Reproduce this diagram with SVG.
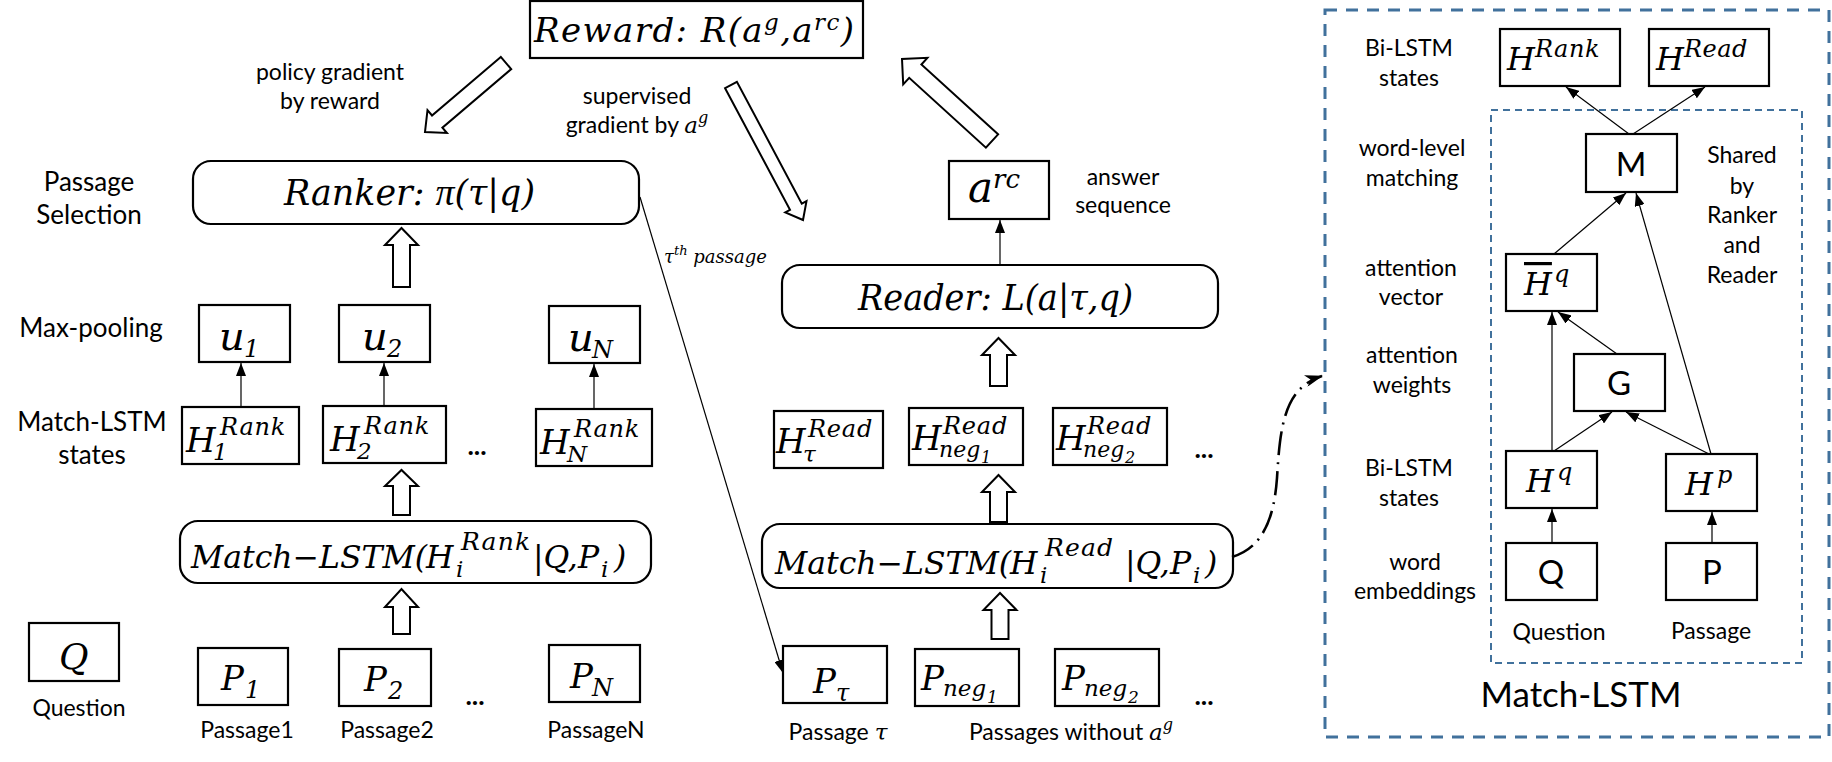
<svg xmlns="http://www.w3.org/2000/svg" width="1832" height="762" viewBox="0 0 1832 762">
<defs>
<style>
.box{fill:#fff;stroke:#000;stroke-width:2.2}
.lbl{font-family:Lato,"Liberation Sans",sans-serif;font-size:23px;fill:#000;text-anchor:middle}
.lblL{font-size:26px}
.dots{font-family:Lato,"Liberation Sans",sans-serif;font-size:27px;font-weight:bold;fill:#000;text-anchor:middle}
.title{font-family:Lato,"Liberation Sans",sans-serif;font-size:35px;fill:#000;text-anchor:middle}
.m{font-family:"DejaVu Serif","Liberation Serif",serif;font-style:italic;fill:#000}
.pi{font-family:"Liberation Serif",serif;font-style:italic}
.s{font-family:Lato,"Liberation Sans",sans-serif;font-size:33px;fill:#000;text-anchor:middle}
.thin{stroke:#000;stroke-width:1.2;fill:none}
.blk{fill:#fff;stroke:#000;stroke-width:2;stroke-linejoin:miter}
.dasho{fill:none;stroke:#41719C;stroke-width:3;stroke-dasharray:12 9}
.dashi{fill:none;stroke:#41719C;stroke-width:2;stroke-dasharray:7 5}
.dd{fill:none;stroke:#000;stroke-width:2.6;stroke-dasharray:24 7 2 7}
</style>
<marker id="ah" markerUnits="userSpaceOnUse" markerWidth="13" markerHeight="10" refX="13" refY="5" orient="auto" viewBox="0 0 13 10"><path d="M0,0 L13,5 L0,10 z" fill="#000"/></marker>
<marker id="st" markerUnits="userSpaceOnUse" markerWidth="18" markerHeight="12" refX="17" refY="6" orient="auto" viewBox="0 0 18 12"><path d="M0,0 L18,6 L0,12 L5,6 z" fill="#000"/></marker>
</defs>
<rect width="1832" height="762" fill="#fff"/>

<g id="labels-left">
<text class="lbl lblL" x="89" y="191">Passage</text>
<text class="lbl lblL" x="89" y="224">Selection</text>
<text class="lbl lblL" x="91" y="337">Max-pooling</text>
<text class="lbl lblL" x="92" y="431">Match-LSTM</text>
<text class="lbl lblL" x="92" y="464">states</text>
<text class="lbl" x="330" y="80">policy gradient</text>
<text class="lbl" x="330" y="109">by reward</text>
<text class="lbl" x="637" y="104">supervised</text>
<text class="lbl" x="637" y="133">gradient by <tspan class="m" font-size="23">a</tspan><tspan class="m" font-size="16" dy="-10">g</tspan></text>
<text class="lbl" x="1123" y="185">answer</text>
<text class="lbl" x="1123" y="213">sequence</text>
<text class="m" font-size="18" x="664" y="263">τ<tspan font-size="13" dy="-8">th</tspan><tspan dy="8"> passage</tspan></text>
</g>

<g id="reward">
<rect class="box" x="530" y="1" width="333" height="57"/>
<text class="m" font-size="34" x="534" y="42" textLength="320">Reward: R(a<tspan font-size="23" dy="-12">g</tspan><tspan dy="12">,a</tspan><tspan font-size="23" dy="-12">rc</tspan><tspan dy="12">)</tspan></text>
</g>

<g id="ranker">
<rect class="box" x="193" y="161" width="446" height="63" rx="18"/>
<text class="m" font-size="35" x="284" y="205" textLength="251" lengthAdjust="spacingAndGlyphs">Ranker: <tspan class="pi" font-size="38">π</tspan>(τ|q)</text>
</g>

<g id="u1"><rect class="box" x="199" y="305" width="91" height="57"/><text class="m" font-size="40" y="350"><tspan x="219">u</tspan><tspan x="244" y="357" font-size="24">1</tspan></text></g>
<g id="u2"><rect class="box" x="339" y="305" width="91" height="57"/><text class="m" font-size="40" y="350"><tspan x="362">u</tspan><tspan x="387" y="357" font-size="24">2</tspan></text></g>
<g id="uN"><rect class="box" x="549" y="306" width="91" height="57"/><text class="m" font-size="40" y="351"><tspan x="568">u</tspan><tspan x="592" y="358" font-size="24">N</tspan></text></g>

<g id="hrank1"><rect class="box" x="182" y="407" width="117" height="57"/><text class="m" font-size="34" y="452"><tspan x="186">H</tspan><tspan x="213" y="460" font-size="23">1</tspan><tspan x="220" y="435" font-size="24" letter-spacing="0.8">Rank</tspan></text></g>
<g id="hrank2"><rect class="box" x="323" y="406" width="123" height="57"/><text class="m" font-size="34" y="451"><tspan x="330">H</tspan><tspan x="357" y="459" font-size="23">2</tspan><tspan x="364" y="434" font-size="24" letter-spacing="0.8">Rank</tspan></text></g>
<text class="dots" x="477" y="455">...</text>
<g id="hrankN"><rect class="box" x="536" y="409" width="116" height="57"/><text class="m" font-size="34" y="454"><tspan x="540">H</tspan><tspan x="567" y="462" font-size="23">N</tspan><tspan x="574" y="437" font-size="24" letter-spacing="0.8">Rank</tspan></text></g>

<g id="matchrank">
<rect class="box" x="180" y="521" width="471" height="62" rx="18"/>
<text class="m" font-size="31.5" y="568"><tspan x="191">Match−LSTM(</tspan><tspan x="426">H</tspan><tspan x="456" y="577" font-size="23">i</tspan><tspan x="461" y="550" font-size="25" letter-spacing="1.2">Rank</tspan><tspan x="533" y="568">|Q,P</tspan><tspan x="601" y="577" font-size="23">i</tspan><tspan x="614" y="568">)</tspan></text>
</g>

<g id="q"><rect class="box" x="29" y="623" width="90" height="58"/><text class="m" font-size="36" x="59" y="669">Q</text></g>
<text class="lbl" x="79" y="716">Question</text>
<g id="p1"><rect class="box" x="198" y="648" width="90" height="57"/><text class="m" font-size="34" y="690"><tspan x="221">P</tspan><tspan x="245" y="698" font-size="24">1</tspan></text></g>
<g id="p2"><rect class="box" x="339" y="649" width="92" height="57"/><text class="m" font-size="34" y="691"><tspan x="364">P</tspan><tspan x="388" y="699" font-size="24">2</tspan></text></g>
<text class="dots" x="475" y="705">...</text>
<g id="pN"><rect class="box" x="549" y="645" width="91" height="57"/><text class="m" font-size="34" y="688"><tspan x="570">P</tspan><tspan x="592" y="696" font-size="24">N</tspan></text></g>
<text class="lbl" x="247" y="738">Passage1</text>
<text class="lbl" x="387" y="738">Passage2</text>
<text class="lbl" x="596" y="738">PassageN</text>

<g id="arc"><rect class="box" x="949" y="161" width="100" height="58"/><text class="m" font-size="42" y="202"><tspan x="968">a</tspan><tspan x="993" y="188" font-size="26">rc</tspan></text></g>

<g id="reader">
<rect class="box" x="782" y="265" width="436" height="63" rx="18"/>
<text class="m" font-size="35" x="858" y="310" textLength="275" lengthAdjust="spacingAndGlyphs">Reader: L(a|τ,q)</text>
</g>

<g id="hread-tau"><rect class="box" x="774" y="411" width="109" height="57"/><text class="m" font-size="34" y="453"><tspan x="776">H</tspan><tspan x="803" y="462" font-size="23">τ</tspan><tspan x="808" y="437" font-size="24" letter-spacing="0.8">Read</tspan></text></g>
<g id="hread-neg1"><rect class="box" x="909" y="408" width="114" height="57"/><text class="m" font-size="34" y="450"><tspan x="912">H</tspan><tspan x="939" y="457" font-size="22">neg</tspan><tspan x="981" y="463" font-size="16">1</tspan><tspan x="943" y="434" font-size="24" letter-spacing="0.8">Read</tspan></text></g>
<g id="hread-neg2"><rect class="box" x="1053" y="408" width="114" height="57"/><text class="m" font-size="34" y="450"><tspan x="1056">H</tspan><tspan x="1083" y="457" font-size="22">neg</tspan><tspan x="1125" y="463" font-size="16">2</tspan><tspan x="1087" y="434" font-size="24" letter-spacing="0.8">Read</tspan></text></g>
<text class="dots" x="1204" y="458">...</text>

<g id="matchread">
<rect class="box" x="762" y="524" width="471" height="64" rx="18"/>
<text class="m" font-size="31.5" y="574"><tspan x="775">Match−LSTM(</tspan><tspan x="1010">H</tspan><tspan x="1040" y="583" font-size="23">i</tspan><tspan x="1045" y="556" font-size="25" letter-spacing="1.2">Read</tspan><tspan x="1125" y="574">|Q,P</tspan><tspan x="1193" y="583" font-size="23">i</tspan><tspan x="1205" y="574">)</tspan></text>
</g>

<g id="ptau"><rect class="box" x="783" y="646" width="104" height="57"/><text class="m" font-size="34" y="693"><tspan x="813">P</tspan><tspan x="836" y="701" font-size="24">τ</tspan></text></g>
<g id="pneg1"><rect class="box" x="915" y="649" width="104" height="57"/><text class="m" font-size="34" y="690"><tspan x="921">P</tspan><tspan x="943" y="696" font-size="23">neg</tspan><tspan x="987" y="703" font-size="17">1</tspan></text></g>
<g id="pneg2"><rect class="box" x="1055" y="649" width="104" height="57"/><text class="m" font-size="34" y="690"><tspan x="1062">P</tspan><tspan x="1084" y="696" font-size="23">neg</tspan><tspan x="1128" y="703" font-size="17">2</tspan></text></g>
<text class="dots" x="1204" y="705">...</text>
<text class="lbl" x="838" y="740">Passage <tspan class="m" font-size="23">τ</tspan></text>
<text class="lbl" x="1071" y="740">Passages without <tspan class="m" font-size="23">a</tspan><tspan class="m" font-size="16" dy="-10">g</tspan></text>

<g id="match-lstm-panel">
<rect class="dasho" x="1325" y="10" width="504" height="727"/>
<rect class="dashi" x="1491" y="110" width="311" height="553"/>
<text class="lbl" x="1409" y="56">Bi-LSTM</text>
<text class="lbl" x="1409" y="86">states</text>
<text class="lbl" x="1412" y="156">word-level</text>
<text class="lbl" x="1412" y="186">matching</text>
<text class="lbl" x="1411" y="276">attention</text>
<text class="lbl" x="1411" y="305">vector</text>
<text class="lbl" x="1412" y="363">attention</text>
<text class="lbl" x="1412" y="393">weights</text>
<text class="lbl" x="1409" y="476">Bi-LSTM</text>
<text class="lbl" x="1409" y="506">states</text>
<text class="lbl" x="1415" y="570">word</text>
<text class="lbl" x="1415" y="599">embeddings</text>
<text class="lbl" x="1742" y="163">Shared</text>
<text class="lbl" x="1742" y="194">by</text>
<text class="lbl" x="1742" y="223">Ranker</text>
<text class="lbl" x="1742" y="253">and</text>
<text class="lbl" x="1742" y="283">Reader</text>
<text class="lbl" x="1559" y="640">Question</text>
<text class="lbl" x="1711" y="639">Passage</text>
<text class="title" x="1581" y="707">Match-LSTM</text>
</g>
<g id="p-hrank"><rect class="box" x="1500" y="29" width="120" height="57"/><text class="m" font-size="32" y="70"><tspan x="1507">H</tspan><tspan x="1535" y="57" font-size="24" letter-spacing="0.5">Rank</tspan></text></g>
<g id="p-hread"><rect class="box" x="1649" y="29" width="120" height="57"/><text class="m" font-size="32" y="70"><tspan x="1656">H</tspan><tspan x="1684" y="57" font-size="24" letter-spacing="0.5">Read</tspan></text></g>
<g id="p-m"><rect class="box" x="1586" y="134" width="91" height="58"/><text class="s" x="1631" y="176">M</text></g>
<g id="p-hbar"><rect class="box" x="1506" y="254" width="91" height="57"/><text class="m" font-size="32" y="295"><tspan x="1524" text-decoration="overline">H</tspan><tspan x="1554" y="282" font-size="24">q</tspan></text></g>
<g id="p-g"><rect class="box" x="1574" y="354" width="91" height="57"/><text class="s" x="1619" y="395">G</text></g>
<g id="p-hq"><rect class="box" x="1506" y="451" width="91" height="57"/><text class="m" font-size="32" y="492"><tspan x="1526">H</tspan><tspan x="1557" y="480" font-size="24">q</tspan></text></g>
<g id="p-hp"><rect class="box" x="1666" y="454" width="91" height="57"/><text class="m" font-size="32" y="495"><tspan x="1685">H</tspan><tspan x="1717" y="483" font-size="24">p</tspan></text></g>
<g id="p-q"><rect class="box" x="1506" y="543" width="91" height="57"/><text class="s" x="1551" y="584">Q</text></g>
<g id="p-p"><rect class="box" x="1666" y="543" width="91" height="57"/><text class="s" x="1712" y="584">P</text></g>

<g id="connectors">
<polygon class="blk" points="500.8,56.9 432.0,115.5 427.5,110.2 425,132 446.9,133.0 442.4,127.7 511.2,69.1"/>
<polygon class="blk" points="725.1,88.2 790.0,209.9 785.3,212.4 803,220 806.5,201.1 801.8,203.6 736.9,81.8"/>
<polygon class="blk" points="998.1,134.3 921.4,64.5 927.4,57.8 902,59 903.2,84.4 909.2,77.8 985.9,147.7"/>
<polygon class="blk" points="393,287 393,245 385,245 401.5,228 418,245 410,245 410,287"/>
<polygon class="blk" points="393,515 393,486 385,486 401.5,470 418,486 410,486 410,515"/>
<polygon class="blk" points="393,634 393,607 385,607 401.5,589 418,607 410,607 410,634"/>
<polygon class="blk" points="990,386 990,355 982,355 998.5,338 1015,355 1007,355 1007,386"/>
<polygon class="blk" points="990,522 990,492 982,492 998.5,475 1015,492 1007,492 1007,522"/>
<polygon class="blk" points="991.5,639 991.5,610 983.5,610 1000,593 1016.5,610 1008.5,610 1008.5,639"/>
<line class="thin" x1="241" y1="407" x2="241" y2="363" marker-end="url(#ah)"/>
<line class="thin" x1="384" y1="406" x2="384" y2="363" marker-end="url(#ah)"/>
<line class="thin" x1="594" y1="409" x2="594" y2="364" marker-end="url(#ah)"/>
<line class="thin" x1="1000" y1="265" x2="1000" y2="220" marker-end="url(#ah)"/>
<line class="thin" x1="640" y1="197" x2="783" y2="673" marker-end="url(#ah)"/>
<path class="dd" d="M1232,557 C1262,548 1274,520 1277,478 C1280,430 1283,388 1322,376" marker-end="url(#st)"/>
<line class="thin" x1="1629" y1="134" x2="1566" y2="87" marker-end="url(#ah)"/>
<line class="thin" x1="1633" y1="134" x2="1705" y2="87" marker-end="url(#ah)"/>
<line class="thin" x1="1554" y1="254" x2="1626" y2="193" marker-end="url(#ah)"/>
<line class="thin" x1="1711" y1="454" x2="1636" y2="193" marker-end="url(#ah)"/>
<line class="thin" x1="1617" y1="354" x2="1558" y2="312" marker-end="url(#ah)"/>
<line class="thin" x1="1552" y1="451" x2="1552" y2="312" marker-end="url(#ah)"/>
<line class="thin" x1="1554" y1="451" x2="1612" y2="412" marker-end="url(#ah)"/>
<line class="thin" x1="1709" y1="454" x2="1626" y2="412" marker-end="url(#ah)"/>
<line class="thin" x1="1552" y1="543" x2="1552" y2="509" marker-end="url(#ah)"/>
<line class="thin" x1="1712" y1="543" x2="1712" y2="512" marker-end="url(#ah)"/>
</g>
</svg>
